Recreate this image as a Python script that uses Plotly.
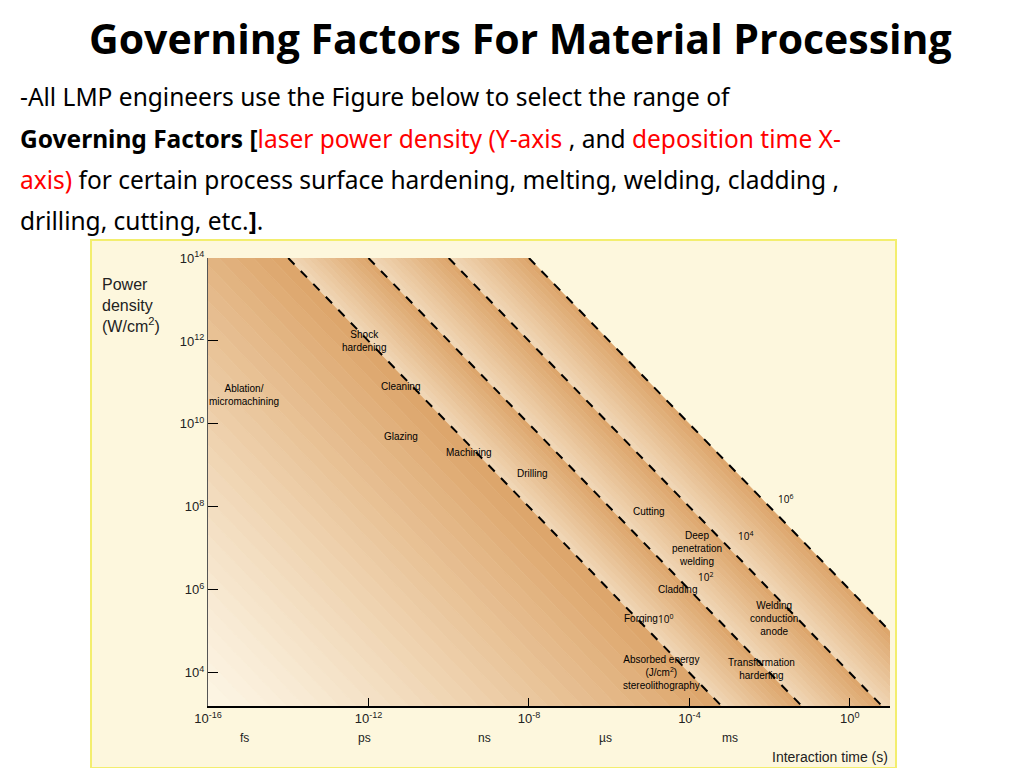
import plotly.graph_objects as go

# ---- data ----
energy_lines = [0, 2, 4, 6]          # log10 J/cm^2 of dashed lines
energy_labels = ["10<sup>0</sup>", "10<sup>2</sup>", "10<sup>4</sup>", "10<sup>6</sup>"]
energy_label_pos = [(-4.6, 5.3), (-3.6, 6.3), (-2.6, 7.3), (-1.6, 8.2)]
x_tick_vals = [-16, -12, -8, -4, 0]
x_tick_text = ["10<sup>-16</sup>", "10<sup>-12</sup>", "10<sup>-8</sup>", "10<sup>-4</sup>", "10<sup>0</sup>"]
unit_vals = [-15.1, -12.1, -9.1, -6.1, -3.0]
unit_text = ["fs", "ps", "ns", "µs", "ms"]
y_tick_vals = [4, 6, 8, 10, 12, 14]
y_tick_text = ["10<sup>4</sup>", "10<sup>6</sup>", "10<sup>8</sup>", "10<sup>10</sup>", "10<sup>12</sup>", "10<sup>14</sup>"]
process_labels = ["Shock<br>hardening", "Cleaning", "Ablation/<br>micromachining", "Glazing", "Machining",
                  "Drilling", "Cutting", "Deep<br>penetration<br>welding", "Cladding",
                  "Welding<br>conduction<br>anode", "Forging",
                  "Absorbed energy<br>(J/cm<sup>2</sup>)<br>stereolithography", "Transformation<br>hardening"]
process_pos = [(-12.1, 12.0), (-11.2, 10.9), (-15.1, 10.7), (-11.2, 9.7), (-9.5, 9.3),
               (-7.9, 8.8), (-5.0, 7.9), (-3.8, 7.0), (-4.3, 6.0), (-1.9, 5.3), (-5.2, 5.3),
               (-4.7, 4.0), (-2.2, 4.1)]

XMIN, XMAX, YMIN, YMAX = -16, 1, 3.2, 14

def clip(poly, f, c, keep_ge):
    out = []
    n = len(poly)
    for i in range(n):
        p, q = poly[i], poly[(i + 1) % n]
        fp, fq = f(p) - c, f(q) - c
        ip = fp >= 0 if keep_ge else fp <= 0
        iq = fq >= 0 if keep_ge else fq <= 0
        if ip:
            out.append(p)
        if ip != iq:
            t = fp / (fp - fq)
            out.append((p[0] + t * (q[0] - p[0]), p[1] + t * (q[1] - p[1])))
    return out

box = [(XMIN, YMIN), (XMAX, YMIN), (XMAX, YMAX), (XMIN, YMAX)]
s = lambda p: p[0] + p[1]

def band(a, b):
    poly = clip(box, s, a, True)
    return clip(poly, s, b, False)

def mix(c1, c2, t):
    return "rgb(%d,%d,%d)" % tuple(round(c1[i] + (c2[i] - c1[i]) * t) for i in range(3))

light = (253, 246, 230)
dark = (221, 166, 108)

fig = go.Figure()
bands = [(-13, 0), (0, 2), (2, 4), (4, 6)]
for bi, (a, b) in enumerate(bands):
    steps = 30 if bi == 0 else 12
    for k in range(steps):
        lo = a + (b - a) * k / steps
        hi = a + (b - a) * (k + 1) / steps
        t = (k + 1) / steps
        if bi == 0:
            t = t ** 1.3
        else:
            t = 0.35 + 0.65 * t
        poly = band(lo, hi)
        if len(poly) < 3:
            continue
        xs = [10 ** p[0] for p in poly] + [10 ** poly[0][0]]
        ys = [10 ** p[1] for p in poly] + [10 ** poly[0][1]]
        fig.add_trace(go.Scatter(x=xs, y=ys, fill="toself", mode="lines", line=dict(width=0.5, color=mix(light, dark, t)),
                                 fillcolor=mix(light, dark, t), hoverinfo="skip", showlegend=False))

for e in energy_lines:
    x0 = max(XMIN, e - YMAX); x1 = min(XMAX, e - YMIN)
    fig.add_trace(go.Scatter(x=[10 ** x0, 10 ** x1], y=[10 ** (e - x0), 10 ** (e - x1)], mode="lines",
                             line=dict(color="black", width=2, dash="dash"), showlegend=False, hoverinfo="skip"))

ann = []
for txt, (lx, ly) in zip(energy_labels, energy_label_pos):
    ann.append(dict(x=lx, y=ly, xref="x", yref="y", text=txt, showarrow=False, xanchor="center", yanchor="middle",
                    font=dict(size=10, color="black")))
for txt, (lx, ly) in zip(process_labels, process_pos):
    ann.append(dict(x=lx, y=ly, xref="x", yref="y", text=txt, showarrow=False, xanchor="center", yanchor="middle",
                    font=dict(size=10, color="black", family="Liberation Sans Narrow, Arial Narrow, sans-serif")))
for v, txt in zip(unit_vals, unit_text):
    ann.append(dict(x=v, y=1 - 730 / 768, xref="x", yref="paper", text=txt, showarrow=False,
                    xanchor="center", yanchor="middle", font=dict(size=12, color="#222", family="Arial")))
ann.append(dict(x=92 / 1024, y=1 - 297 / 768, xref="paper", yref="paper", xanchor="left", yanchor="middle",
                text="Power<br>density<br>(W/cm<sup>2</sup>)", showarrow=False, align="left",
                font=dict(size=16, color="#222", family="Liberation Sans Narrow, Arial Narrow, Arial")))
ann.append(dict(x=882 / 1024, y=1 - 749 / 768, xref="paper", yref="paper", xanchor="right", yanchor="middle",
                text="Interaction time (s)", showarrow=False,
                font=dict(size=14, color="#222", family="Arial")))
ann.append(dict(x=0.5, y=1 - 30 / 768, xref="paper", yref="paper", xanchor="center", yanchor="middle",
                text="<b>Governing Factors For Material Processing</b>",
                showarrow=False, font=dict(size=41, color="black", family="Open Sans")))
body = ["-All LMP engineers use the Figure below to select the range of",
        "<b>Governing Factors [</b><span style='color:#ff0000'>laser power density (Y-axis </span>, and <span style='color:#ff0000'>deposition time X-</span>",
        "<span style='color:#ff0000'>axis)</span> for certain process surface hardening, melting, welding, cladding ,",
        "drilling, cutting, etc.<b>]</b>."]
for i, line in enumerate(body):
    ann.append(dict(x=10 / 1024, y=1 - (89 + 41 * i) / 768, xref="paper", yref="paper", xanchor="left", yanchor="middle",
                    text=line, showarrow=False, font=dict(size=24.5, color="black", family="Noto Sans")))

fig.update_layout(
    width=1024, height=768, margin=dict(l=0, r=0, t=0, b=0, autoexpand=False),
    paper_bgcolor="white", plot_bgcolor="rgba(0,0,0,0)",
    annotations=ann,
    shapes=[dict(type="rect", xref="paper", yref="paper", x0=83 / 1024, x1=888 / 1024, y0=1 - 760 / 768, y1=1 - 232 / 768,
                 fillcolor="#fdf7dd", line=dict(color="#f3ee6e", width=2), layer="below")],
    xaxis=dict(type="log", range=[XMIN, XMAX], domain=[200 / 1024, 882 / 1024], tickvals=[10 ** v for v in x_tick_vals],
               ticktext=x_tick_text, showgrid=False, zeroline=False, showline=True, linecolor="black", linewidth=1.5,
               ticks="inside", ticklen=8, tickcolor="black", tickfont=dict(size=13, color="#222", family="Arial")),
    yaxis=dict(type="log", range=[YMIN, YMAX], domain=[1 - 698 / 768, 1 - 250 / 768], tickvals=[10 ** v for v in y_tick_vals],
               ticktext=y_tick_text, showgrid=False, zeroline=False, showline=True, linecolor="#555", linewidth=1,
               ticks="inside", ticklen=10, tickcolor="black", tickfont=dict(size=13, color="#222", family="Arial")),
)
fig.write_html("out.html")
